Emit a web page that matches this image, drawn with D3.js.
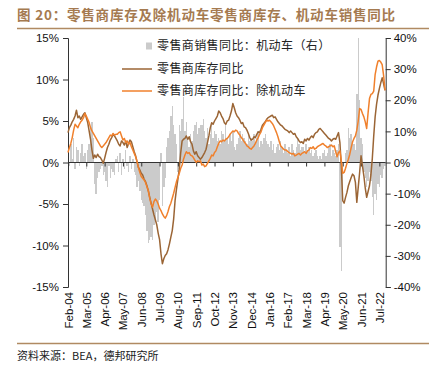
<!DOCTYPE html>
<html><head><meta charset="utf-8">
<script src="https://cdn.jsdelivr.net/npm/d3@7"></script>
<style>
html,body{margin:0;padding:0;background:#fff;}
svg{display:block;}
</style></head>
<body>
<svg id="chart" width="439" height="367"></svg>
<script>
// ---------------- DATA ----------------
const startMonth = new Date(2004, 1, 1);   // Feb-2004
const endMonth = new Date(2022, 11, 1);    // exclusive -> last Nov-2022
const tickLabels = ["Feb-04","Mar-05","Apr-06","May-07","Jun-08","Jul-09","Aug-10","Sep-11","Oct-12","Nov-13","Dec-14","Jan-16","Feb-17","Mar-18","Apr-19","May-20","Jun-21","Jul-22"];
const leftTicks = [-15,-10,-5,0,5,10,15];
const rightTicks = [-40,-30,-20,-10,0,10,20,30,40];
const seriesNames = ["零售商销售同比：机动车（右）","零售商库存同比","零售商库存同比：除机动车"];

// 零售商库存同比 (%)
const invTotal = [
 3.6,4.2,4.5,4.9,5.2,5.6,6.3,5.4,5.6,5.2,5.5,
 5.8,6.0,5.4,4.8,3.8,2.8,1.5,0.5,0.9,0.6,1.0,0.7,
 0.6,0.3,-0.1,0.5,1.2,1.8,2.2,2.7,3.0,3.4,3.2,2.9,
 2.6,2.2,2.0,2.6,2.4,2.1,2.6,1.8,2.3,2.7,2.5,1.9,
 1.3,0.8,0.1,-0.6,-0.9,-1.3,-1.5,-2.0,-2.3,-2.8,-3.4,-4.2,
 -4.9,-5.6,-6.3,-6.9,-7.5,-8.5,-9.3,-11.0,-12.2,-11.6,-11.2,-11.0,
 -10.5,-9.8,-9.0,-8.2,-6.8,-4.6,-3.2,-2.0,-0.8,1.2,2.6,2.8,
 2.9,3.2,2.8,3.1,2.5,2.2,1.4,1.0,1.3,0.8,0.6,0.4,
 0.6,0.9,1.2,1.6,2.4,3.2,4.2,4.8,4.6,5.0,5.3,5.6,
 6.2,6.0,5.6,5.3,4.8,4.6,5.0,5.1,5.6,6.2,7.1,6.6,
 6.0,5.6,5.4,5.1,4.7,4.8,4.3,4.2,3.9,3.5,3.0,2.7,
 2.8,3.1,3.0,3.4,3.7,3.6,4.0,4.5,4.7,4.9,5.2,5.4,
 5.5,5.6,5.7,5.4,5.5,5.2,4.9,4.7,4.5,4.4,4.2,4.0,
 3.9,3.8,3.6,3.8,3.6,3.4,3.5,3.1,2.9,2.6,2.4,2.5,
 2.3,2.8,2.6,2.9,2.7,3.0,3.2,3.0,3.4,3.6,3.7,4.0,
 4.1,3.9,3.7,3.5,3.3,3.1,2.9,2.8,2.6,2.8,2.9,2.8,
 3.2,3.6,2.4,-0.5,-4.6,-4.9,-4.2,-3.6,-2.8,-2.3,-1.8,-1.4,
 -1.6,-2.4,-4.8,-3.0,-1.2,0.8,-0.4,-1.6,-3.1,-4.2,-3.5,-2.8,
 -1.5,0.5,3.2,5.5,7.0,8.1,8.9,9.6,10.2,9.5,8.7
];
// 零售商库存同比：除机动车 (%)
const invExAuto = [
 1.2,1.8,2.3,3.0,3.9,4.6,4.4,4.2,4.6,4.9,5.1,
 5.4,5.9,5.6,5.2,4.8,4.2,3.8,3.5,3.2,2.9,2.6,2.3,
 2.0,1.8,2.0,2.2,2.4,2.7,3.0,3.3,3.2,3.5,3.3,3.4,
 3.4,3.6,3.7,3.2,2.7,2.9,2.4,2.6,2.2,2.4,1.9,1.5,
 1.1,0.7,0.1,-0.6,-1.2,-1.7,-1.9,-2.1,-2.4,-2.9,-3.4,-4.3,
 -5.0,-5.4,-4.7,-4.4,-4.6,-5.0,-5.5,-5.8,-6.2,-6.5,-6.7,-6.4,
 -5.9,-5.3,-4.9,-4.3,-3.7,-3.0,-2.3,-1.8,-1.3,-0.7,-0.3,0.4,
 0.9,1.3,1.1,1.2,0.9,0.8,0.6,0.3,0.0,0.2,0.1,0.2,
 -0.3,-0.2,-0.5,-0.4,-0.1,0.2,0.5,0.9,0.8,1.2,1.4,1.9,
 2.3,2.6,2.5,2.7,2.6,2.8,2.9,3.1,3.4,3.6,3.8,3.7,
 3.9,3.8,3.5,3.3,3.0,2.8,2.5,2.3,2.0,1.9,1.7,1.6,
 1.8,2.0,2.3,2.7,3.0,3.4,3.7,4.2,4.5,4.8,5.1,5.0,
 5.1,4.9,4.7,4.4,4.0,3.6,3.1,2.5,2.0,1.8,1.6,1.5,
 1.5,1.3,1.2,1.1,1.0,1.1,0.8,0.9,1.0,1.1,0.9,1.1,
 1.2,1.3,1.1,1.4,1.5,1.8,1.7,1.9,1.6,1.7,1.9,2.0,
 2.1,2.2,2.3,2.1,2.0,1.8,1.9,2.0,2.1,1.9,2.0,1.3,
 0.7,1.2,1.4,0.2,-1.3,-1.2,-0.7,-0.1,0.4,1.0,1.8,2.5,
 2.9,3.2,3.9,5.0,6.5,6.4,5.9,5.5,4.9,4.1,6.0,7.7,
 8.2,8.3,8.6,10.6,11.5,12.2,12.3,12.1,11.8,10.5,8.7
];
// 零售商销售同比：机动车 (%, right axis)
const autoSales = [
 2,-1,6,1,8,-2,5,4,-1,3,6,
 2,3,-2,4,6,11,13,8,-7,-10,-5,-3,
 -2,-1,-4,-3,-6,-8,-1,-5,-2,-3,-4,1,
 2,-3,3,-4,1,-2,4,-1,-3,2,-2,1,
 -3,-4,-8,-6,-9,-12,-13,-14,-17,-22,-26,-25,
 -24,-25,-20,-18,-16,-19,-12,3,-14,-8,-5,5,
 8,10,15,18,12,9,6,-3,12,10,14,21,
 10,13,8,5,9,7,10,12,13,9,11,12,
 12,14,10,8,11,6,9,12,8,10,9,7,
 8,6,10,9,7,12,8,6,9,7,10,5,
 4,6,8,10,7,9,8,7,6,9,7,8,
 7,9,6,8,10,5,7,6,8,9,7,6,
 5,7,4,6,3,5,6,4,7,5,3,6,
 4,3,5,2,6,4,3,5,8,6,4,5,
 5,3,6,4,5,3,4,2,3,4,2,1,
 2,1,3,4,2,3,5,6,2,4,3,2,
 4,6,-27,-35,-9,0,3,4,11,8,9,6,
 6,4,22,60,20,8,6,-3,-5,-8,-6,-3,
 -6,-11,-17,-10,-12,-7,-8,-4,-5,-2,-1
];

// ---------------- LAYOUT ----------------
const W = 439, H = 367;
const plot = {left: 68, right: 385.7, top: 38, bottom: 287};
const colors = {bar: "#cbcbcb", total: "#9b6535", ex: "#f0802c", title: "#a57a50", rule: "#b08a62", axis: "#333"};

const fmtMonth = d3.timeFormat("%b-%y");
const months = d3.timeMonth.range(startMonth, endMonth).map(fmtMonth);
const step = (plot.right - plot.left) / (months.length - 0.5);

const svg = d3.select("#chart");

const x = d3.scalePoint().domain(months).range([plot.left, plot.left + step * (months.length - 1)]);
const yL = d3.scaleLinear().domain([-15, 15]).range([plot.bottom, plot.top]);
const yR = d3.scaleLinear().domain([-40, 40]).range([plot.bottom, plot.top]);

// Title
svg.append("text").attr("x", 17).attr("y", 20)
  .attr("font-family", "'Noto Sans CJK SC', sans-serif").attr("font-weight", "bold")
  .attr("font-size", 13.5).attr("fill", colors.title).attr("letter-spacing", 0.8)
  .text("图 20：零售商库存及除机动车零售商库存、机动车销售同比");
svg.append("line").attr("x1", 17).attr("x2", 429).attr("y1", 28.5).attr("y2", 28.5)
  .attr("stroke", colors.rule).attr("stroke-width", 1.5);

// Footer
svg.append("line").attr("x1", 17).attr("x2", 429).attr("y1", 343.5).attr("y2", 343.5)
  .attr("stroke", colors.rule).attr("stroke-width", 1.5);
svg.append("text").attr("x", 17).attr("y", 360)
  .attr("font-family", "'Noto Sans CJK SC', sans-serif").attr("font-size", 11)
  .attr("fill", "#222").text("资料来源：BEA，德邦研究所");

// Clip
svg.append("clipPath").attr("id", "clip").append("rect")
  .attr("x", plot.left).attr("y", plot.top)
  .attr("width", plot.right - plot.left).attr("height", plot.bottom - plot.top);

// Bars
const barW = step;
svg.append("g").attr("clip-path", "url(#clip)").attr("shape-rendering", "crispEdges")
  .selectAll("rect").data(autoSales).join("rect")
  .attr("x", (d, i) => x(months[i]) - barW / 2)
  .attr("width", barW)
  .attr("y", d => Math.min(yR(d), yR(0)))
  .attr("height", d => Math.abs(yR(d) - yR(0)))
  .attr("fill", colors.bar);

// Axes
const axisFont = "'Liberation Sans', Arial, sans-serif";
const gL = svg.append("g").attr("transform", `translate(${plot.left},0)`)
  .call(d3.axisLeft(yL).tickValues(leftTicks).tickSize(5).tickPadding(4).tickFormat(d => d + "%"));
const gR = svg.append("g").attr("transform", `translate(${plot.right},0)`)
  .call(d3.axisRight(yR).tickValues(rightTicks).tickSize(5).tickPadding(3).tickFormat(d => d + "%"));
const gX = svg.append("g").attr("transform", `translate(0,${yL(0)})`)
  .call(d3.axisBottom(x).tickValues(tickLabels).tickSize(4).tickFormat(""));
gX.select(".domain").attr("d", `M${plot.left},0H${plot.right}`);
[gL, gR, gX].forEach(g => {
  g.select(".domain").attr("stroke", colors.axis).attr("stroke-width", 1);
  g.selectAll(".tick line").attr("stroke", colors.axis);
  g.selectAll("text").attr("font-family", axisFont).attr("font-size", 11.5).attr("fill", "#111");
});

// Bottom rotated labels
const gXL = svg.append("g").attr("transform", `translate(0,${plot.bottom + 5})`)
  .call(d3.axisBottom(x).tickValues(tickLabels).tickSize(0));
gXL.select(".domain").remove();
gXL.selectAll("text")
  .attr("font-family", axisFont).attr("font-size", 11.5).attr("fill", "#111")
  .attr("text-anchor", "end").attr("dy", null)
  .attr("transform", "rotate(-90)").attr("x", 0).attr("y", 0).attr("dy", "0.35em");

// Lines
const lineGen = arr => d3.line().x((d, i) => x(months[i])).y(d => yL(d))(arr);
svg.append("path").attr("d", lineGen(invTotal)).attr("fill", "none")
  .attr("stroke", colors.total).attr("stroke-width", 1.5).attr("stroke-linejoin", "round");
svg.append("path").attr("d", lineGen(invExAuto)).attr("fill", "none")
  .attr("stroke", colors.ex).attr("stroke-width", 1.5).attr("stroke-linejoin", "round");

// Legend
const legendFont = "'Noto Sans CJK SC', sans-serif";
const leg = svg.append("g");
const rows = [46, 69, 91];
leg.append("rect").attr("x", 146).attr("y", rows[0] - 3.5).attr("width", 6).attr("height", 7).attr("fill", colors.bar);
leg.append("line").attr("x1", 122).attr("x2", 152).attr("y1", rows[1]).attr("y2", rows[1]).attr("stroke", colors.total).attr("stroke-width", 1.5);
leg.append("line").attr("x1", 122).attr("x2", 152).attr("y1", rows[2]).attr("y2", rows[2]).attr("stroke", colors.ex).attr("stroke-width", 1.5);
seriesNames.forEach((t, i) => {
  leg.append("text").attr("x", 157).attr("y", rows[i]).attr("dy", "0.36em")
    .attr("font-family", legendFont).attr("font-size", 12).attr("fill", "#222")
    .attr("letter-spacing", 0.4).text(t);
});
</script>
</body></html>
